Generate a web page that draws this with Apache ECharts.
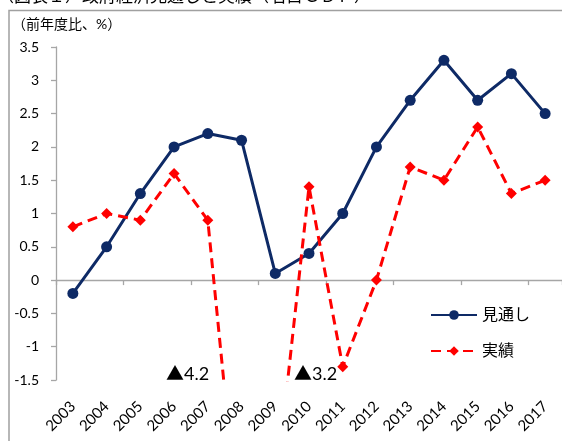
<!DOCTYPE html>
<html>
<head>
<meta charset="utf-8">
<script src="https://cdn.jsdelivr.net/npm/echarts@6/dist/echarts.min.js"></script>
<style>
  html, body { margin: 0; padding: 0; background: #fff; }
  #chart { width: 562px; height: 441px; }
</style>
</head>
<body>
<div id="chart"></div>
<script>
// 年度
const years = ['2003', '2004', '2005', '2006', '2007', '2008', '2009', '2010',
  '2011', '2012', '2013', '2014', '2015', '2016', '2017'];
// 政府経済見通し（名目GDP、前年度比%）
const forecast = [-0.2, 0.5, 1.3, 2.0, 2.2, 2.1, 0.1, 0.4, 1.0, 2.0, 2.7, 3.3, 2.7, 3.1, 2.5];
// 実績（名目GDP、前年度比%）
const actual = [0.8, 1.0, 0.9, 1.6, 0.9, -4.2, -3.2, 1.4, -1.3, 0.0, 1.7, 1.5, 2.3, 1.3, 1.5];
// 目盛範囲
const yMin = -1.5, yMax = 3.5, yStep = 0.5;

const FONT = "Lato, 'Noto Sans CJK JP', sans-serif";
const NAVY = '#0E2A66';
const RED = '#FF0000';
const GRAY = '#A6A6A6';

const chart = echarts.init(document.getElementById('chart'), null, { renderer: 'canvas' });

// 枠外に出た値の注記（▲はマイナス）
const offscale = [
  { idx: 5, text: '▲4.2', x: 166 },
  { idx: 6, text: '▲3.2', x: 294 }
];

chart.setOption({
  animation: false,
  backgroundColor: '#fff',
  textStyle: { fontFamily: FONT },
  grid: { left: 56, right: 0, top: 47, bottom: 61 },
  legend: {
    orient: 'vertical',
    left: 425,
    top: 302,
    itemWidth: 46,
    itemHeight: 12,
    itemGap: 20,
    textStyle: { fontSize: 16, color: '#000', fontFamily: FONT },
    data: ['見通し', '実績']
  },
  xAxis: [
    {
      type: 'category',
      data: years,
      position: 'bottom',
      axisLine: { show: false, onZero: false },
      axisTick: { show: false },
      axisLabel: { rotate: 45, fontSize: 15, color: '#000', margin: 24, fontFamily: FONT }
    },
    {
      type: 'category',
      data: years,
      position: 'bottom',
      axisLine: { show: true, onZero: true, lineStyle: { color: GRAY, width: 1.3 } },
      axisTick: { show: true, length: 5, lineStyle: { color: GRAY, width: 1.3 } },
      axisLabel: { show: false }
    }
  ],
  yAxis: {
    type: 'value',
    min: yMin,
    max: yMax,
    interval: yStep,
    axisLine: { show: true, lineStyle: { color: GRAY, width: 1.3 } },
    axisTick: { show: true, length: 5, lineStyle: { color: GRAY, width: 1.3 } },
    splitLine: { show: false },
    axisLabel: { fontSize: 14, color: '#000', margin: 17, fontFamily: FONT }
  },
  series: [
    {
      name: '見通し',
      type: 'line',
      xAxisIndex: 0,
      data: forecast,
      symbol: 'circle',
      symbolSize: 11,
      lineStyle: { color: NAVY, width: 3 },
      itemStyle: { color: NAVY },
      z: 3
    },
    {
      name: '実績',
      type: 'line',
      xAxisIndex: 0,
      data: actual,
      symbol: 'diamond',
      symbolSize: 11,
      clip: true,
      lineStyle: { color: RED, width: 3, type: [10, 6] },
      itemStyle: { color: RED },
      z: 4
    }
  ],
  graphic: [
    {
      type: 'rect',
      shape: { x: 9, y: 10.5, width: 600, height: 500 },
      style: { fill: 'none', stroke: '#A0A0A0', lineWidth: 1.5 },
      silent: true,
      z: 0
    },
    {
      type: 'text',
      left: -3,
      top: -12,
      style: { text: '（図表１）政府経済見通しと実績（名目ＧＤＰ）', fontSize: 17, fill: '#000', fontFamily: FONT }
    },
    {
      type: 'text',
      left: 12,
      top: 17,
      style: { text: '（前年度比、%）', fontSize: 14, fill: '#000', fontFamily: FONT }
    }
  ].concat(offscale.map(o => ({
    type: 'text',
    left: o.x,
    top: 365,
    style: { text: o.text, fontSize: 18, fill: '#000', fontFamily: FONT }
  })))
});
</script>
</body>
</html>
